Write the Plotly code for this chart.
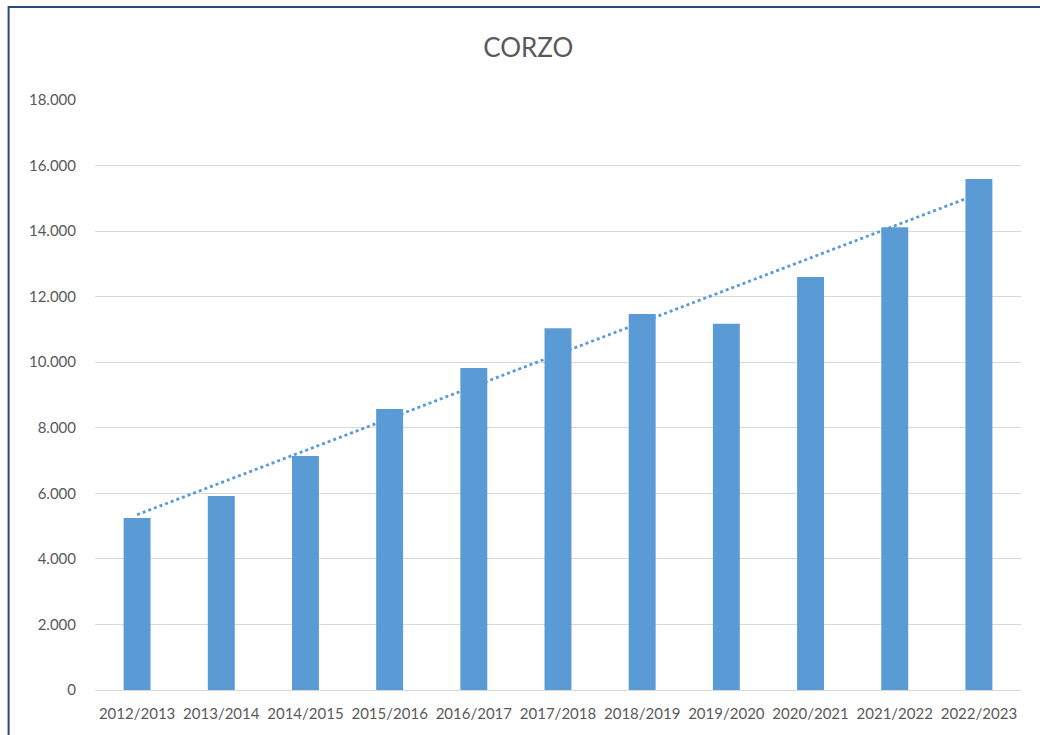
import numpy as np
import plotly.graph_objects as go

seasons = ["2012/2013", "2013/2014", "2014/2015", "2015/2016", "2016/2017", "2017/2018",
           "2018/2019", "2019/2020", "2020/2021", "2021/2022", "2022/2023"]
values = [5250, 5920, 7140, 8570, 9820, 11040, 11470, 11170, 12600, 14120, 15590]
y_ticks = [0, 2000, 4000, 6000, 8000, 10000, 12000, 14000, 16000, 18000]

# linear trendline, like the excel one
idx = np.arange(len(values))
slope, intercept = np.polyfit(idx, values, 1)
trend = slope * idx + intercept

blue = "#5B9BD5"
grey = "#595959"

fig = go.Figure()
fig.add_trace(go.Bar(x=seasons, y=values, marker=dict(color=blue, line=dict(width=0)),
                     width=0.32, showlegend=False))
fig.add_trace(go.Scatter(x=seasons, y=trend, mode="lines",
                         line=dict(color=blue, width=2.8, dash="dot"), showlegend=False))

fig.update_layout(
    width=1040, height=735,
    margin=dict(l=94.5, r=18.5, t=100, b=45),
    paper_bgcolor="white", plot_bgcolor="white",
    separators=",.",
    font=dict(family="Lato, Open Sans, sans-serif", color=grey, size=15),
    title=dict(text="CORZO", x=0.508, xref="container", xanchor="center", y=0.935, yanchor="middle",
               font=dict(size=26, color=grey, family="Lato, Open Sans, sans-serif")),
)
fig.update_xaxes(showgrid=False, showline=False, ticks="", ticklabelstandoff=13,
                 tickfont=dict(size=15, color=grey))
fig.update_yaxes(range=[0, 18000], tickvals=y_ticks, tickformat=",d", showgrid=True,
                 gridcolor="#D9D9D9", gridwidth=1, zeroline=True, zerolinecolor="#D9D9D9",
                 zerolinewidth=1, ticks="", ticklabelstandoff=18, tickfont=dict(size=15, color=grey))

# chart border
fig.add_shape(type="rect", xref="paper", yref="paper", x0=-0.0933, y0=-0.3, x1=1.2, y1=1.1576,
              line=dict(color="#2E4A7A", width=2), fillcolor="rgba(0,0,0,0)", layer="above")

fig.write_html("out.html", config={"displayModeBar": False},
               post_script="document.body.style.margin='0';")
